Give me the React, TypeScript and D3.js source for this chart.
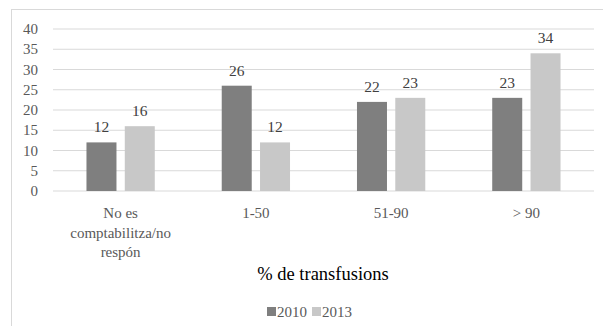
import React from "react";
import * as d3 from "d3";

const categories: string[][] = [
  ["No es", "comptabilitza/no", "respón"],
  ["1-50"],
  ["51-90"],
  ["> 90"],
];
const seriesNames = ["2010", "2013"];
const values2010 = [12, 26, 22, 23];
const values2013 = [16, 12, 23, 34];
const yTicks = [0, 5, 10, 15, 20, 25, 30, 35, 40];
const axisTitle = "% de transfusions";

const colors = ["#7f7f7f", "#c8c8c8"];
const W = 603;
const H = 326;
const font =
  '"Liberation Serif", Tinos, "Times New Roman", Times, "Noto Serif", "DejaVu Serif", FreeSerif, "Nimbus Roman", serif';

export default function App() {
  const left = 53;
  const right = 594;
  const top = 29;
  const bottom = 191;

  const x = d3
    .scaleBand<number>()
    .domain(d3.range(categories.length))
    .range([left, right]);
  const y = d3.scaleLinear().domain([0, 40]).range([bottom, top]);

  const barW = 30;
  const gap = 8.3;
  const series = [values2010, values2013];
  const ts = { fontFamily: font };

  return (
    <svg
      width={W}
      height={H}
      style={{ position: "absolute", left: 0, top: 0, background: "#fff", fontFamily: font }}
    >
      <rect x={11.5} y={9.5} width={600} height={320} fill="#fff" stroke="#d9d9d9" />
      {yTicks.map((t) => (
        <g key={t}>
          <line x1={left} x2={right} y1={y(t)} y2={y(t)} stroke="#d9d9d9" strokeWidth={1} />
          <text x={38} y={y(t) + 5} textAnchor="end" fontSize={15} fill="#595959" style={ts}>
            {t}
          </text>
        </g>
      ))}
      {series.map((vals, s) =>
        vals.map((v, i) => {
          const c = (x(i) as number) + x.bandwidth() / 2;
          const bx = s === 0 ? c - gap / 2 - barW : c + gap / 2;
          return (
            <g key={`${s}-${i}`}>
              <rect x={bx} y={y(v)} width={barW} height={y(0) - y(v)} fill={colors[s]} />
              <text
                x={bx + barW / 2}
                y={y(v) - 10}
                textAnchor="middle"
                fontSize={15.5}
                fill="#404040"
                style={ts}
              >
                {v}
              </text>
            </g>
          );
        })
      )}
      {categories.map((lines, i) => (
        <text
          key={i}
          x={(x(i) as number) + x.bandwidth() / 2}
          textAnchor="middle"
          fontSize={15}
          fill="#595959"
          style={ts}
        >
          {lines.map((l, k) => (
            <tspan key={k} x={(x(i) as number) + x.bandwidth() / 2} y={218 + k * 19.5}>
              {l}
            </tspan>
          ))}
        </text>
      ))}
      <text x={323} y={280} textAnchor="middle" fontSize={18.5} fill="#000" style={ts}>
        {axisTitle}
      </text>
      {seriesNames.map((n, i) => {
        const lx = 267 + i * 45;
        return (
          <g key={n}>
            <rect x={lx} y={307} width={9} height={9} fill={colors[i]} />
            <text x={lx + 10} y={317} fontSize={15} fill="#595959" style={ts}>
              {n}
            </text>
          </g>
        );
      })}
    </svg>
  );
}
